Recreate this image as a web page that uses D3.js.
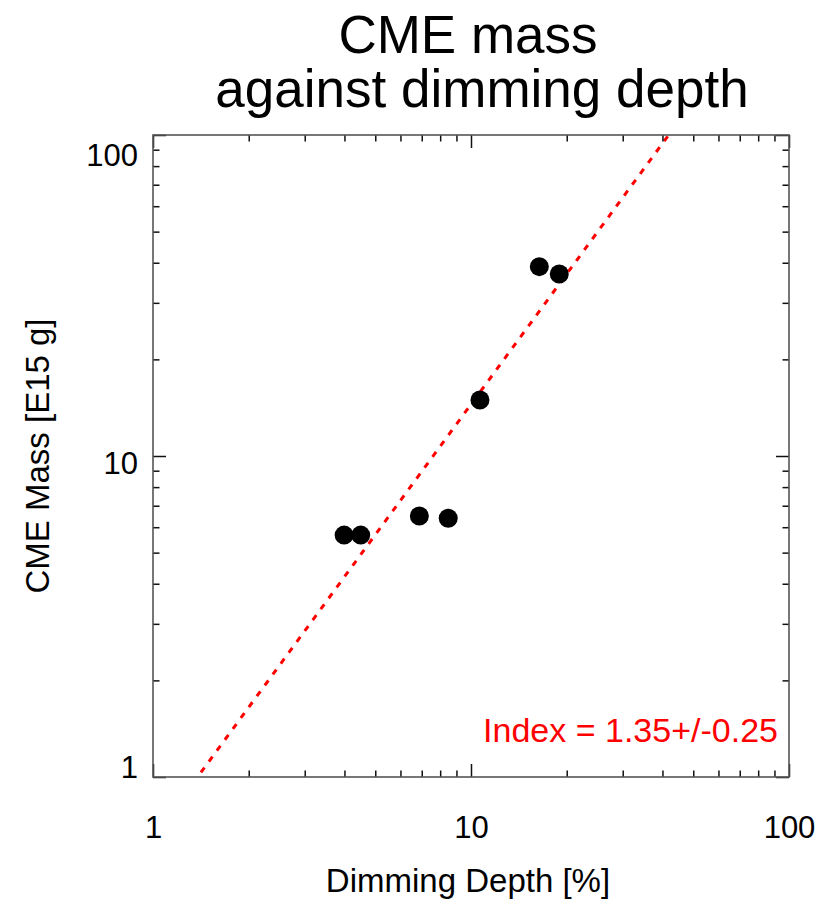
<!DOCTYPE html>
<html>
<head>
<meta charset="utf-8">
<script src="https://cdn.jsdelivr.net/npm/d3@7"></script>
<style>
  html, body { margin: 0; padding: 0; background: #fff; }
  svg { display: block; font-family: "Liberation Sans", Arial, Helvetica, sans-serif; }
</style>
</head>
<body>
<svg id="chart" width="822" height="903"></svg>
<script>
// ---- data ----
const dimmingDepth = [3.99, 4.50, 6.88, 8.48, 10.67, 16.4, 18.95];   // %
const cmeMass      = [5.67, 5.67, 6.50, 6.40, 14.94, 38.9, 36.9];    // E15 g
const fitIndex = 1.35;
const fitIndexErr = 0.25;
const fitPivotX = 7.6;    // depth at which fit gives mass 10
const fitPivotY = 10;
const xMajorTicks = [1, 10, 100];
const xMinorTicks = [2,3,4,5,6,7,8,9,20,30,40,50,60,70,80,90];
const yMajorTicks = [1, 10, 100];
const yMinorTicks = [2,3,4,5,6,7,8,9,20,30,40,50,60,70,80,90];
const tickLabels = ["1", "10", "100"];
const titleLines = ["CME mass", "against dimming depth"];
const xTitle = "Dimming Depth [%]";
const yTitle = "CME Mass [E15 g]";

// ---- layout ----
const L = 153, R = 789, T = 135, B = 777;
const svg = d3.select("#chart");

const x = d3.scaleLog().domain([1, 100]).range([L, R]);
const y = d3.scaleLog().domain([1, 100]).range([B, T]);

const labelOf = v => tickLabels[xMajorTicks.indexOf(v)];

// clip
svg.append("clipPath").attr("id", "clip")
  .append("rect").attr("x", L).attr("y", T).attr("width", R - L).attr("height", B - T);

// fit line
const fitFn = d => fitPivotY * Math.pow(d / fitPivotX, fitIndex);
const lineXs = [1, 100];
svg.append("path")
  .attr("clip-path", "url(#clip)")
  .attr("d", d3.line().x(d => x(d)).y(d => y(fitFn(d)))(lineXs))
  .attr("fill", "none")
  .attr("stroke", "#ff0000")
  .attr("stroke-width", 3)
  .attr("stroke-dasharray", "6,7.5");

// points
svg.append("g").selectAll("circle")
  .data(dimmingDepth.map((d, i) => [d, cmeMass[i]]))
  .join("circle")
  .attr("cx", d => x(d[0]))
  .attr("cy", d => y(d[1]))
  .attr("r", 9.5)
  .attr("fill", "#000");

// axes
function styleAxis(g) {
  g.select(".domain").remove();
  g.selectAll(".tick line").attr("stroke", "#111").attr("stroke-width", 1.5);
}
// bottom
svg.append("g").attr("transform", `translate(0,${B})`)
  .call(d3.axisBottom(x).tickValues(xMinorTicks).tickSize(-6.5).tickFormat(""))
  .call(styleAxis);
const gxb = svg.append("g").attr("transform", `translate(0,${B})`)
  .call(d3.axisBottom(x).tickValues(xMajorTicks).tickSize(-13).tickPadding(39).tickFormat(labelOf))
  .call(styleAxis);
gxb.selectAll("text").attr("font-size", 31).attr("fill", "#000")
  .attr("font-family", "Liberation Sans, Arial, sans-serif");
// top
svg.append("g").attr("transform", `translate(0,${T})`)
  .call(d3.axisTop(x).tickValues(xMinorTicks).tickSize(-6.5).tickFormat(""))
  .call(styleAxis);
svg.append("g").attr("transform", `translate(0,${T})`)
  .call(d3.axisTop(x).tickValues(xMajorTicks).tickSize(-13).tickFormat(""))
  .call(styleAxis);
// left
svg.append("g").attr("transform", `translate(${L},0)`)
  .call(d3.axisLeft(y).tickValues(yMinorTicks).tickSize(-6.5).tickFormat(""))
  .call(styleAxis);
const gyl = svg.append("g").attr("transform", `translate(${L},0)`)
  .call(d3.axisLeft(y).tickValues(yMajorTicks).tickSize(-13).tickPadding(15).tickFormat(v => tickLabels[yMajorTicks.indexOf(v)]))
  .call(styleAxis);
const yLabelShift = {1: 0, 10: 17, 100: 30};
gyl.selectAll(".tick text")
  .attr("font-size", 31).attr("fill", "#000")
  .attr("font-family", "Liberation Sans, Arial, sans-serif")
  .attr("dy", null)
  .attr("y", d => yLabelShift[d]);
// right
svg.append("g").attr("transform", `translate(${R},0)`)
  .call(d3.axisRight(y).tickValues(yMinorTicks).tickSize(-6.5).tickFormat(""))
  .call(styleAxis);
svg.append("g").attr("transform", `translate(${R},0)`)
  .call(d3.axisRight(y).tickValues(yMajorTicks).tickSize(-13).tickFormat(""))
  .call(styleAxis);

// frame
svg.append("rect")
  .attr("x", L).attr("y", T).attr("width", R - L).attr("height", B - T)
  .attr("fill", "none").attr("stroke", "#555").attr("stroke-width", 1.6);

// index text
svg.append("text")
  .attr("x", 778).attr("y", 742)
  .attr("text-anchor", "end")
  .attr("font-size", 34)
  .attr("fill", "#ff0000")
  .text(`Index = ${fitIndex.toFixed(2)}+/-${fitIndexErr.toFixed(2)}`);

// title
svg.append("text").attr("x", 468).attr("y", 53).attr("text-anchor", "middle")
  .attr("font-size", 53).attr("fill", "#000").text(titleLines[0]);
svg.append("text").attr("x", 482).attr("y", 107).attr("text-anchor", "middle")
  .attr("font-size", 53).attr("fill", "#000").text(titleLines[1]);

// axis titles
svg.append("text").attr("x", 468).attr("y", 892).attr("text-anchor", "middle")
  .attr("font-size", 33).attr("fill", "#000").text(xTitle);
svg.append("text")
  .attr("transform", `translate(49,${(T + B) / 2}) rotate(-90)`)
  .attr("text-anchor", "middle")
  .attr("font-size", 33).attr("fill", "#000").text(yTitle);
</script>
</body>
</html>
